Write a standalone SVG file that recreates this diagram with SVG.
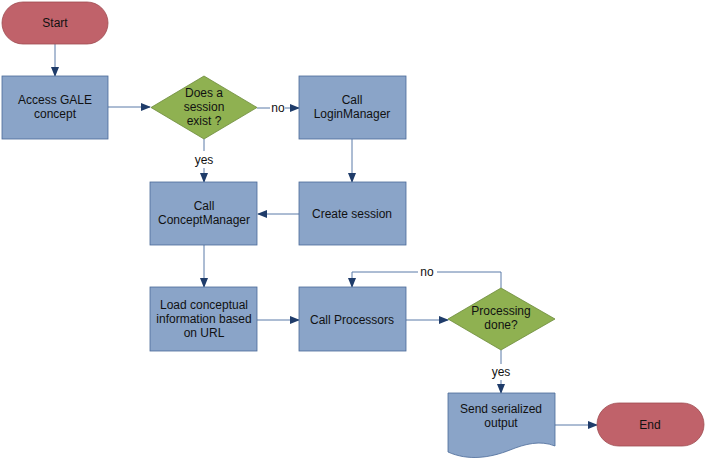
<svg xmlns="http://www.w3.org/2000/svg" width="706" height="461" viewBox="0 0 706 461">
<style>
text{font-family:"Liberation Sans",Arial,sans-serif;font-size:12px;fill:#111;text-anchor:middle}
.term{fill:#c0626a;stroke:#9e4b50;stroke-width:0.8}
.proc{fill:#8aa4c8;stroke:#4a6a98;stroke-width:0.8}
.dec{fill:#8fb151;stroke:#6c8a3a;stroke-width:0.8}
.con{fill:none;stroke:#5a7aa8;stroke-width:1}
</style>
<defs>
<marker id="ah" markerWidth="10" markerHeight="8" refX="9" refY="4" orient="auto" markerUnits="userSpaceOnUse">
<path d="M0,0 L10,4 L0,8 Z" fill="#1f3c6a"/>
</marker>
</defs>
<rect width="706" height="461" fill="#fff"/>
<g id="connectors">
<path class="con" d="M55,44 V76" marker-end="url(#ah)"/>
<path class="con" d="M108,107 H150" marker-end="url(#ah)"/>
<path class="con" d="M257,108 H270 M285,108 H299" marker-end="url(#ah)"/>
<path class="con" d="M352,139 V182" marker-end="url(#ah)"/>
<path class="con" d="M204,139 V151 M204,168 V182" marker-end="url(#ah)"/>
<path class="con" d="M299,214 H258" marker-end="url(#ah)"/>
<path class="con" d="M204,245 V287" marker-end="url(#ah)"/>
<path class="con" d="M257,320 H299" marker-end="url(#ah)"/>
<path class="con" d="M406,320 H448" marker-end="url(#ah)"/>
<path class="con" d="M501,288 V272 H437 M418,272 H352 V287" marker-end="url(#ah)"/>
<path class="con" d="M501,350 V364 M501,380 V393" marker-end="url(#ah)"/>
<path class="con" d="M555,425 H597" marker-end="url(#ah)"/>
<text x="278" y="112">no</text>
<text x="204" y="164">yes</text>
<text x="427" y="276">no</text>
<text x="501" y="376">yes</text>
</g>
<g id="start"><rect class="term" x="2" y="2" width="106" height="42" rx="21"/><text x="55" y="27">Start</text></g>
<g id="access"><rect class="proc" x="2" y="76" width="106" height="63"/><text x="55" y="104">Access GALE</text><text x="55" y="118">concept</text></g>
<g id="session"><path class="dec" d="M151,107.5 L204,76 L257,107.5 L204,139 Z"/><text x="204" y="97">Does a</text><text x="204" y="111">session</text><text x="204" y="125">exist ?</text></g>
<g id="login"><rect class="proc" x="299" y="76" width="107" height="63"/><text x="352" y="104">Call</text><text x="352" y="118">LoginManager</text></g>
<g id="create"><rect class="proc" x="299" y="182" width="107" height="63"/><text x="352" y="218">Create session</text></g>
<g id="concept"><rect class="proc" x="150" y="182" width="107" height="63"/><text x="204" y="210">Call</text><text x="204" y="224">ConceptManager</text></g>
<g id="load"><rect class="proc" x="150" y="287" width="107" height="64"/><text x="204" y="309">Load conceptual</text><text x="204" y="323">information based</text><text x="204" y="337">on URL</text></g>
<g id="processors"><rect class="proc" x="299" y="287" width="107" height="64"/><text x="352" y="324">Call Processors</text></g>
<g id="done"><path class="dec" d="M448,319 L501,288 L555,319 L501,350 Z"/><text x="501" y="315">Processing</text><text x="501" y="329">done?</text></g>
<g id="send"><path class="proc" d="M448,393 H555 V446 C540,440 525,444 510,450 C490,458 468,461 448,452 Z"/><text x="501" y="413">Send serialized</text><text x="501" y="427">output</text></g>
<g id="end"><rect class="term" x="597" y="403" width="107" height="43" rx="21.5"/><text x="650" y="429">End</text></g>
</svg>
